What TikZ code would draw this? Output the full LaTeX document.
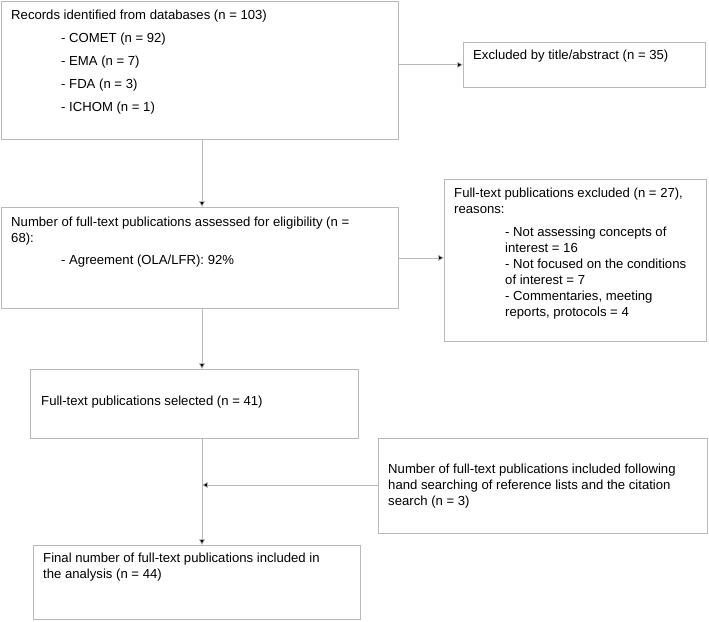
\documentclass[tikz,border=0pt]{standalone}
\usepackage{fontspec}
\setmainfont{Liberation Sans}
\usetikzlibrary{arrows.meta}
\newcommand{\px}{0.03cm}
\tikzset{
  box/.style={draw=gray!55, line width=0.6pt, anchor=north west, inner sep=0pt},
  txt/.style={anchor=north west, align=left, inner sep=0pt, font=\fontsize{11.2}{13.6}\selectfont},
  flow/.style={draw=gray!55, line width=0.6pt, -{Triangle[length=5pt,width=5pt,fill=black]}}
}
\begin{document}
\begin{tikzpicture}[x=\px, y=-\px]
  \useasboundingbox (0,0) rectangle (709,621);
  % boxes
  \node [box, minimum width=397*\px, minimum height=138*\px] (records) at (1,1) {};
  \node [box, minimum width=242*\px, minimum height=45*\px] (excl) at (463,42) {};
  \node [box, minimum width=397*\px, minimum height=101*\px] (assessed) at (1,207) {};
  \node [box, minimum width=262*\px, minimum height=162*\px] (fullexcl) at (444,179) {};
  \node [box, minimum width=328*\px, minimum height=69*\px] (selected) at (30,369) {};
  \node [box, minimum width=329*\px, minimum height=95*\px] (hand) at (378,438) {};
  \node [box, minimum width=327*\px, minimum height=74*\px] (final) at (33,545) {};
  % texts
  \node [txt] (t1) at (11,10) {Records identified from databases (n = 103)};
  \node [txt] (t1a) at (61,33) {- COMET (n = 92)\\[6pt]- EMA (n = 7)\\[6pt]- FDA (n = 3)\\[6pt]- ICHOM (n = 1)};
  \node [txt] (t2) at (473,50) {Excluded by title/abstract (n = 35)};
  \node [txt] (t3) at (11,217) {Number of full-text publications assessed for eligibility (n =\\68):};
  \node [txt] (t3a) at (61,255) {- Agreement (OLA/LFR): 92\%};
  \node [txt] (t4) at (454,188) {Full-text publications excluded (n = 27),\\reasons:};
  \node [txt] (t4a) at (505,227) {- Not assessing concepts of\\interest = 16\\- Not focused on the conditions\\of interest = 7\\- Commentaries, meeting\\reports, protocols = 4};
  \node [txt] (t5) at (41,396) {Full-text publications selected (n = 41)};
  \node [txt] (t6) at (388,464) {Number of full-text publications included following\\hand searching of reference lists and the citation\\search (n = 3)};
  \node [txt] (t7) at (43,553) {Final number of full-text publications included in\\the analysis (n = 44)};
  % connectors
  \coordinate (join) at (202,485);
  \draw [flow] (records.east |- excl.west) -- (excl.west);
  \draw [flow] (records.south -| 202,0) -- (assessed.north -| 202,0);
  \draw [flow] (assessed.east) -- (assessed.east -| fullexcl.west);
  \draw [flow] (assessed.south -| 202,0) -- (selected.north -| 202,0);
  \draw [flow] (selected.south -| 202,0) -- (final.north -| 202,0);
  \draw [flow] (hand.west |- join) -- (join);
\end{tikzpicture}
\end{document}
